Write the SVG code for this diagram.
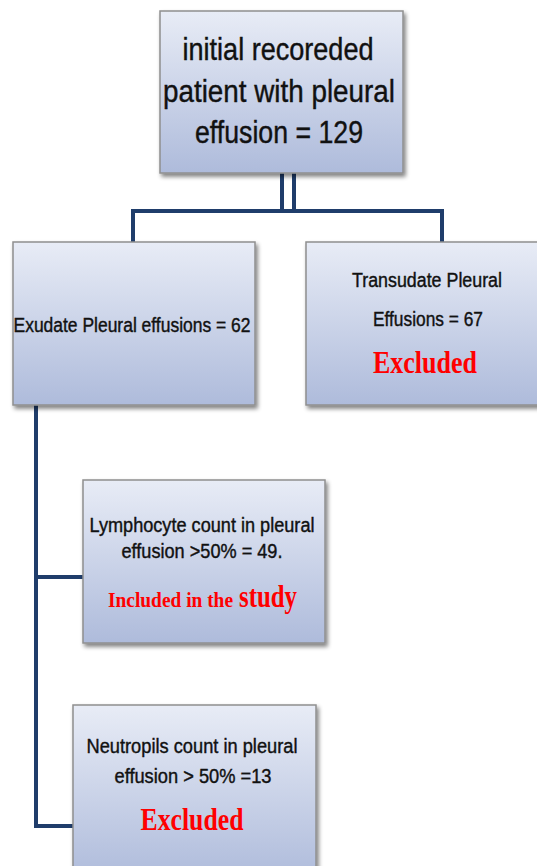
<svg xmlns="http://www.w3.org/2000/svg" width="537" height="866" viewBox="0 0 537 866">
<defs>
<linearGradient id="g" x1="0" y1="0" x2="0" y2="1">
<stop offset="0" stop-color="#e8ecf6"/>
<stop offset="1" stop-color="#aebbdb"/>
</linearGradient>
<filter id="sh" x="-10%" y="-10%" width="130%" height="130%">
<feGaussianBlur in="SourceAlpha" stdDeviation="2"/>
<feOffset dx="2" dy="3" result="b"/>
<feComponentTransfer><feFuncA type="linear" slope="0.5"/></feComponentTransfer>
<feMerge><feMergeNode/><feMergeNode in="SourceGraphic"/></feMerge>
</filter>
</defs>
<style>
.box{fill:url(#g);stroke:#8f8f8f;stroke-width:1.5;filter:url(#sh)}
.t{font-family:"Liberation Sans",Arial,sans-serif;fill:#111;text-anchor:middle;stroke:#111;stroke-width:0.4}
.r{font-family:"Liberation Serif",serif;font-weight:bold;fill:#ff0000;text-anchor:middle}
.c{fill:none;stroke:#1f3d6b;stroke-width:4}
</style>
<rect width="537" height="866" fill="#fff"/>
<g id="connectors">
<polyline class="c" points="282,173 282,211"/>
<polyline class="c" points="294,173 294,211"/>
<polyline class="c" points="133,242 133,211 442,211 442,242"/>
<polyline class="c" points="36,405 36,826 73,826"/>
<polyline class="c" points="36,577 83,577"/>
</g>
<g id="n1">
<rect class="box" x="160" y="11" width="243" height="162"/>
<text class="t" x="278" y="60" font-size="31" textLength="191" lengthAdjust="spacingAndGlyphs">initial recoreded</text>
<text class="t" x="279" y="102" font-size="31" textLength="232" lengthAdjust="spacingAndGlyphs">patient with pleural</text>
<text class="t" x="279" y="143" font-size="31" textLength="168" lengthAdjust="spacingAndGlyphs">effusion = 129</text>
</g>
<g id="n2">
<rect class="box" x="13" y="242" width="242" height="163"/>
<text class="t" x="132" y="332" font-size="20" textLength="237" lengthAdjust="spacingAndGlyphs">Exudate Pleural effusions = 62</text>
</g>
<g id="n3">
<rect class="box" x="306" y="242" width="240" height="163"/>
<text class="t" x="427" y="287" font-size="20" textLength="150" lengthAdjust="spacingAndGlyphs">Transudate Pleural</text>
<text class="t" x="428" y="326" font-size="20" textLength="110" lengthAdjust="spacingAndGlyphs">Effusions = 67</text>
<text class="r" x="425" y="373" font-size="31" textLength="104" lengthAdjust="spacingAndGlyphs">Excluded</text>
</g>
<g id="n4">
<rect class="box" x="83" y="480" width="242" height="163"/>
<text class="t" x="202" y="532" font-size="20" textLength="225" lengthAdjust="spacingAndGlyphs">Lymphocyte count in pleural</text>
<text class="t" x="202" y="558" font-size="20" textLength="161" lengthAdjust="spacingAndGlyphs">effusion &gt;50% = 49.</text>
<text class="r" y="607" style="text-anchor:start"><tspan x="108" font-size="20" textLength="125" lengthAdjust="spacingAndGlyphs">Included in the</tspan><tspan x="239" font-size="31" textLength="58" lengthAdjust="spacingAndGlyphs">study</tspan></text>
</g>
<g id="n5">
<rect class="box" x="73" y="705" width="243" height="175"/>
<text class="t" x="192" y="753" font-size="20" textLength="211" lengthAdjust="spacingAndGlyphs">Neutropils count in pleural</text>
<text class="t" x="193" y="783" font-size="20" textLength="157" lengthAdjust="spacingAndGlyphs">effusion &gt; 50% =13</text>
<text class="r" x="192" y="830" font-size="31" textLength="103" lengthAdjust="spacingAndGlyphs">Excluded</text>
</g>
</svg>
